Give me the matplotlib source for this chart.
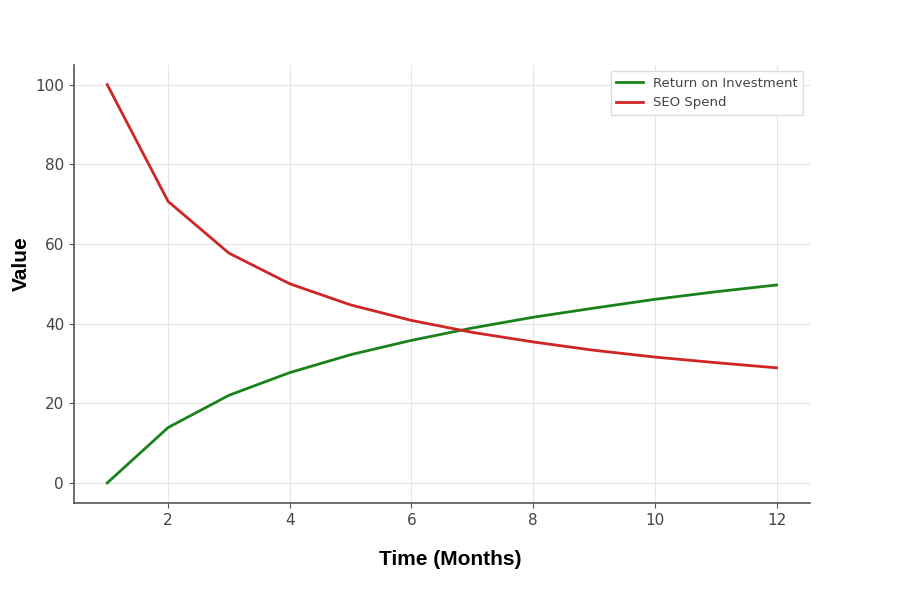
import matplotlib
matplotlib.use('Agg')
import matplotlib.pyplot as plt

# Monthly values
months = [1, 2, 3, 4, 5, 6, 7, 8, 9, 10, 11, 12]
roi = [0, 13.9, 22.0, 27.7, 32.2, 35.8, 38.9, 41.6, 43.9, 46.1, 48.0, 49.7]
seo_spend = [100, 70.7, 57.7, 50.0, 44.7, 40.8, 37.8, 35.4, 33.3, 31.6, 30.2, 28.9]

fig = plt.figure(figsize=(9, 6), dpi=100)
ax = fig.add_axes([0.082, 0.162, 0.818, 0.730])

ax.plot(months, roi, color='#1a821a', linewidth=2, label='Return on Investment')
ax.plot(months, seo_spend, color='#d02525', linewidth=2, label='SEO Spend')

ax.set_xticks([2, 4, 6, 8, 10, 12])
ax.set_yticks([0, 20, 40, 60, 80, 100])
ax.grid(True, color='#e6e6e6', linewidth=0.8)
ax.set_axisbelow(True)

for side in ['top', 'right']:
    ax.spines[side].set_visible(False)
for side in ['left', 'bottom']:
    ax.spines[side].set_color('#555555')
    ax.spines[side].set_linewidth(1.2)
ax.tick_params(colors='#555555', labelsize=11, labelcolor='#444444')

leg = ax.legend(loc='upper right', fontsize=9.5, frameon=True, framealpha=1,
                edgecolor='#dddddd', fancybox=False)
for t in leg.get_texts():
    t.set_color('#444444')

fig.text(0.024, 0.56, 'Value', rotation=90, ha='center', va='center',
         fontsize=15, fontweight='bold', family='Liberation Sans')
fig.text(0.5, 0.067, 'Time (Months)', ha='center', va='center',
         fontsize=15, fontweight='bold', family='Liberation Sans')

fig.savefig('out.png', dpi=100)
